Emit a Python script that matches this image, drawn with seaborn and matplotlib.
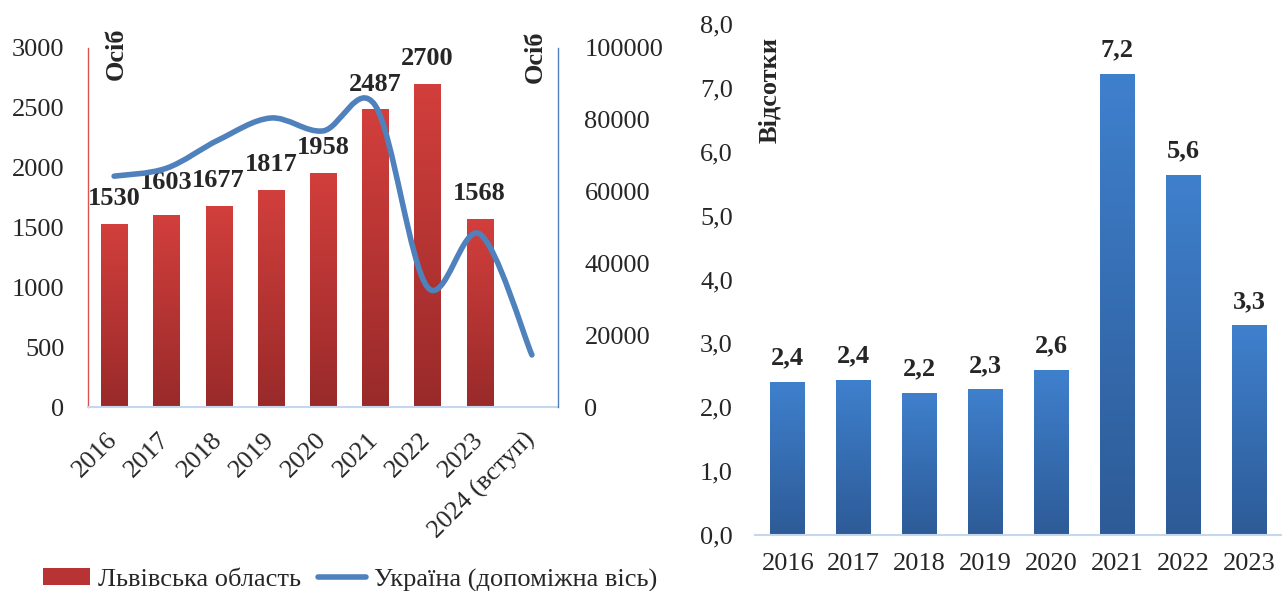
import numpy as np
import pandas as pd
import matplotlib
matplotlib.use("Agg")
import matplotlib.pyplot as plt
import seaborn as sns
from matplotlib.path import Path
from matplotlib.patches import PathPatch, Patch
from matplotlib.lines import Line2D
from matplotlib.colors import LinearSegmentedColormap

# ---------------- data ----------------
years_left = ["2016", "2017", "2018", "2019", "2020", "2021", "2022", "2023", "2024 (вступ)"]
lviv_years = ["2016", "2017", "2018", "2019", "2020", "2021", "2022", "2023"]
lviv_values = [1530, 1603, 1677, 1817, 1958, 2487, 2700, 1568]
ukraine_values = [64300, 66500, 74400, 80500, 76900, 84000, 33400, 48200, 14500]
left_ticks = [0, 500, 1000, 1500, 2000, 2500, 3000]
right_ticks = [0, 20000, 40000, 60000, 80000, 100000]

years_right = ["2016", "2017", "2018", "2019", "2020", "2021", "2022", "2023"]
share_values = [2.40, 2.43, 2.23, 2.28, 2.58, 7.22, 5.64, 3.28]
share_ticks = [0, 1, 2, 3, 4, 5, 6, 7, 8]

legend_labels = ["Львівська область", "Україна (допоміжна вісь)"]
unit_left = "Осіб"
unit_right = "Відсотки"

# ---------------- style ----------------
sns.set_style("white")
plt.rcParams["font.family"] = ["Liberation Serif", "DejaVu Serif"]
FS = 19

RED_TOP, RED_BOT = "#d23f3c", "#992a2a"
BLUE_TOP, BLUE_BOT = "#3f80cd", "#2d5b97"
LINE_BLUE = "#4f81bd"


def gradient_bars(ax, patches, top_color, bottom_color):
    cmap = LinearSegmentedColormap.from_list("g", [bottom_color, top_color])
    grad = np.linspace(0, 1, 256).reshape(-1, 1)
    for p in patches:
        h = p.get_height()
        if not np.isfinite(h) or h == 0:
            continue
        x0, y0, w = p.get_x(), p.get_y(), p.get_width()
        im = ax.imshow(grad, cmap=cmap, origin="lower", aspect="auto",
                       extent=[x0, x0 + w, y0, y0 + h], zorder=p.get_zorder() + 0.1,
                       interpolation="bilinear")
        im.set_clip_path(p)


def smooth_path(xs, ys):
    pts = np.column_stack([xs, ys]).astype(float)
    n = len(pts)
    verts = [pts[0]]
    codes = [Path.MOVETO]
    for i in range(n - 1):
        p0 = pts[i - 1] if i > 0 else pts[i]
        p1 = pts[i]
        p2 = pts[i + 1]
        p3 = pts[i + 2] if i + 2 < n else pts[i + 1]
        c1 = p1 + (p2 - p0) / 6.0
        c2 = p2 - (p3 - p1) / 6.0
        verts += [c1, c2, p2]
        codes += [Path.CURVE4] * 3
    return Path(verts, codes)


fig = plt.figure(figsize=(12.82, 5.91), dpi=100)

# ---------------- left chart ----------------
ax1 = fig.add_axes([88 / 1282, 1 - 407 / 591, (558 - 88) / 1282, (407 - 48) / 591])
df_l = pd.DataFrame({"year": lviv_years, "value": lviv_values})
sns.barplot(data=df_l, x="year", y="value", order=years_left, ax=ax1,
            color=RED_TOP, width=0.5, saturation=1, edgecolor="none")
bars_l = [p for p in ax1.patches]
gradient_bars(ax1, bars_l, RED_TOP, RED_BOT)
ax1.set_xlim(-0.5, len(years_left) - 0.5)
ax1.set_ylim(0, 3000)
ax1.set_yticks(left_ticks)
ax1.set_yticklabels([str(t) for t in left_ticks], fontsize=FS)
ax1.set_xticks(range(len(years_left)))
ax1.set_xticklabels(years_left, fontsize=FS, rotation=45, ha="right", va="center",
                    rotation_mode="anchor")
ax1.tick_params(axis="y", length=0, pad=17)
ax1.tick_params(axis="x", length=0, pad=21)
ax1.set_xlabel("")
ax1.set_ylabel("")
ax1.spines["top"].set_visible(False)
ax1.spines["left"].set_color("#d9534f")
ax1.spines["left"].set_linewidth(1.0)
ax1.spines["right"].set_visible(False)
ax1.spines["bottom"].set_color("#c6d6ec")
ax1.spines["bottom"].set_linewidth(1.5)

extra = [0, 5, 0, 0, 0, 0, 0, 0]
for i, (p, v) in enumerate(zip(bars_l, lviv_values)):
    ax1.annotate(str(v), (p.get_x() + p.get_width() / 2, p.get_height()),
                 xytext=(0, 10 + extra[i]), textcoords="offset points",
                 ha="center", va="bottom", fontsize=FS, fontweight="bold")

ax2 = ax1.twinx()
ax2.set_ylim(0, 100000)
ax2.set_yticks(right_ticks)
ax2.set_yticklabels([str(t) for t in right_ticks], fontsize=FS)
ax2.tick_params(axis="y", length=0, pad=19)
for s in ["top", "left", "bottom"]:
    ax2.spines[s].set_visible(False)
ax2.spines["right"].set_color(LINE_BLUE)
ax2.spines["right"].set_linewidth(1.0)
path = smooth_path(np.arange(len(ukraine_values)), ukraine_values)
ax2.add_patch(PathPatch(path, facecolor="none", edgecolor=LINE_BLUE, lw=4,
                        capstyle="round", joinstyle="round", transform=ax2.transData))
ax2.set_xlim(-0.5, len(years_left) - 0.5)

fig.text(116 / 1282, 1 - 54 / 591, unit_left, rotation=90, ha="center", va="center",
         fontsize=FS, fontweight="bold")
fig.text(535 / 1282, 1 - 57 / 591, unit_left, rotation=90, ha="center", va="center",
         fontsize=FS, fontweight="bold")

handles = [Patch(facecolor="#b83333", edgecolor="none"),
           Line2D([0], [0], color=LINE_BLUE, lw=4, solid_capstyle="round")]
fig.legend(handles, legend_labels, loc="center", bbox_to_anchor=(350 / 1282, 1 - 580 / 591),
           ncol=2, frameon=False, fontsize=FS, handlelength=1.8, handletextpad=0.3,
           columnspacing=0.65, handleheight=0.6)

# ---------------- right chart ----------------
ax3 = fig.add_axes([755 / 1282, 1 - 535 / 591, (1282 - 755) / 1282, (535 - 24) / 591])
df_r = pd.DataFrame({"year": years_right, "value": share_values})
sns.barplot(data=df_r, x="year", y="value", ax=ax3, color=BLUE_TOP, width=0.53,
            saturation=1, edgecolor="none")
bars_r = [p for p in ax3.patches]
gradient_bars(ax3, bars_r, BLUE_TOP, BLUE_BOT)
ax3.set_xlim(-0.5, len(years_right) - 0.5)
ax3.set_ylim(0, 8)
ax3.set_yticks(share_ticks)
ax3.set_yticklabels([f"{t:.1f}".replace(".", ",") for t in share_ticks], fontsize=FS)
ax3.set_xticks(range(len(years_right)))
ax3.set_xticklabels(years_right, fontsize=FS)
ax3.tick_params(axis="y", length=0, pad=16)
ax3.tick_params(axis="x", length=0, pad=13)
ax3.set_xlabel("")
ax3.set_ylabel("")
for s in ["top", "left", "right"]:
    ax3.spines[s].set_visible(False)
ax3.spines["bottom"].set_color("#c6d6ec")
ax3.spines["bottom"].set_linewidth(1.5)
for p, v in zip(bars_r, share_values):
    ax3.annotate(f"{v:.1f}".replace(".", ","), (p.get_x() + p.get_width() / 2, p.get_height()),
                 xytext=(0, 9), textcoords="offset points", ha="center", va="bottom",
                 fontsize=FS, fontweight="bold")

fig.text(770 / 1282, 1 - 90 / 591, unit_right, rotation=90, ha="center", va="center",
         fontsize=FS, fontweight="bold")

fig.savefig("out.png", dpi=100)
